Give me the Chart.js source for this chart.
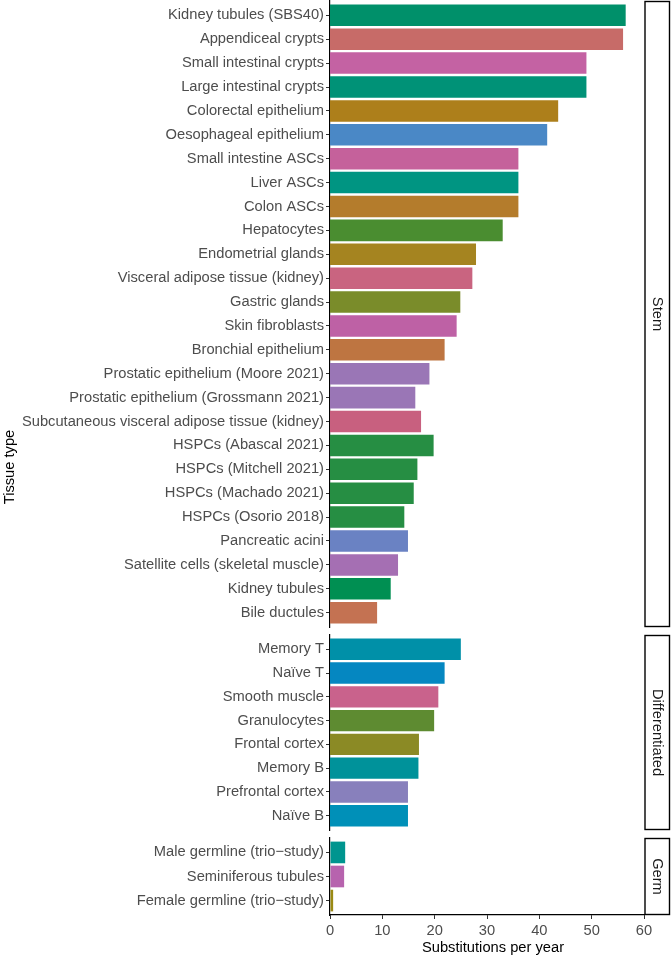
<!DOCTYPE html>
<html><head><meta charset="utf-8">
<script src="https://cdn.jsdelivr.net/npm/chart.js@4.4.1/dist/chart.umd.min.js"></script>
<style>
html,body{margin:0;padding:0;background:#fff;}
body{width:671px;height:956px;position:relative;overflow:hidden;font-family:"Liberation Sans",Arial,sans-serif;}
canvas{position:absolute;left:0;}
#ytitle{position:absolute;left:-91px;top:459px;width:200px;height:16px;line-height:16px;text-align:center;font-size:14.7px;color:#000;transform:rotate(-90deg);transform-origin:100px 8px;white-space:nowrap;}
#xtitle{position:absolute;left:393px;top:939px;width:200px;height:16px;line-height:16px;text-align:center;font-size:14.7px;color:#000;white-space:nowrap;}
</style></head><body>
<canvas id="c1" width="671" height="630" style="top:0;width:671px;height:630px"></canvas>
<canvas id="c2" width="671" height="205" style="top:630px;width:671px;height:205px"></canvas>
<canvas id="c3" width="671" height="126" style="top:830px;width:671px;height:126px"></canvas>
<div id="ytitle">Tissue type</div>
<div id="xtitle"></div>
<script>
// ---- data ----
const stemLabels = ["Kidney tubules (SBS40)","Appendiceal crypts","Small intestinal crypts","Large intestinal crypts","Colorectal epithelium","Oesophageal epithelium","Small intestine ASCs","Liver ASCs","Colon ASCs","Hepatocytes","Endometrial glands","Visceral adipose tissue (kidney)","Gastric glands","Skin fibroblasts","Bronchial epithelium","Prostatic epithelium (Moore 2021)","Prostatic epithelium (Grossmann 2021)","Subcutaneous visceral adipose tissue (kidney)","HSPCs (Abascal 2021)","HSPCs (Mitchell 2021)","HSPCs (Machado 2021)","HSPCs (Osorio 2018)","Pancreatic acini","Satellite cells (skeletal muscle)","Kidney tubules","Bile ductules"];
const stemValues = [56.5,56.0,49.0,49.0,43.6,41.5,36.0,36.0,36.0,33.0,27.9,27.2,24.9,24.2,21.9,19.0,16.3,17.4,19.8,16.7,16.0,14.2,14.9,13.0,11.6,9.0];
const stemColors = ["#00906A","#C76B68","#C462A3","#009277","#AD7F1B","#4A88C6","#C5619B","#009582","#B47C2C","#4A8D30","#A58420","#C96480","#7A8C2A","#BE61A5","#BE7541","#9A76B6","#9A76B6","#C8607F","#268E43","#268E43","#268E43","#268E43","#6A82C3","#A56FB3","#008F52","#C47252"];

const diffLabels = ["Memory T","Naïve T","Smooth muscle","Granulocytes","Frontal cortex","Memory B","Prefrontal cortex","Naïve B"];
const diffValues = [25.0,21.9,20.7,19.9,17.0,16.9,14.9,14.9];
const diffColors = ["#0090A8","#0587C1","#C9628C","#5E8B31","#8B8A25","#00929A","#8880BC","#0090B8"];

const germLabels = ["Male germline (trio\u2212study)","Seminiferous tubules","Female germline (trio\u2212study)"];
const germValues = [2.9,2.7,0.6];
const germColors = ["#00958F","#B763AE","#9A8A14"];

const xTicks = [0,10,20,30,40,50,60];
const facetNames = ["Stem","Differentiated","Germ"];
const xTitle = "Substitutions per year";

// ---- drawing ----
document.getElementById('xtitle').textContent = xTitle;
const FONT = '"Liberation Sans", Arial, sans-serif';
Chart.defaults.font.family = FONT;
Chart.defaults.font.size = 14.7;

const stripPlugin = {
  id: 'strip',
  afterDraw(chart, args, opts) {
    const {ctx, chartArea: a} = chart;
    ctx.save();
    const x0 = a.right + 1, x1 = 669.5;
    const y0 = a.top + 0.5, y1 = a.bottom - 0.5;
    ctx.fillStyle = '#fff';
    ctx.fillRect(x0, y0, x1 - x0, y1 - y0);
    ctx.strokeStyle = '#000';
    ctx.lineWidth = 1.4;
    ctx.strokeRect(x0, y0, x1 - x0, y1 - y0);
    ctx.translate((x0 + x1) / 2, (y0 + y1) / 2);
    ctx.rotate(Math.PI / 2);
    ctx.font = '14.7px ' + FONT;
    ctx.fillStyle = '#1A1A1A';
    ctx.textAlign = 'center';
    ctx.textBaseline = 'middle';
    ctx.fillText(opts.text, 0, 0);
    ctx.restore();
  }
};

function makePanel(id, labels, values, colors, facet, showX, pad) {
  const n = labels.length;
  new Chart(document.getElementById(id), {
    type: 'bar',
    data: {
      datasets: [{
        data: values.map((v, i) => ({x: v, y: i})),
        backgroundColor: colors,
        borderWidth: 0,
        categoryPercentage: 1,
        barPercentage: 0.9
      }]
    },
    options: {
      indexAxis: 'y',
      responsive: false,
      animation: false,
      events: [],
      layout: {padding: pad},
      plugins: {legend: {display: false}, tooltip: {enabled: false}, strip: {text: facet}},
      scales: {
        x: {
          type: 'linear', min: 0, max: 60, offset: false,
          display: showX,
          afterBuildTicks: s => { s.ticks = xTicks.map(v => ({value: v})); },
          afterFit: s => { s.height = showX ? 41 : 0; s.paddingLeft = 0; s.paddingRight = 0; },
          grid: {display: true, offset: false, drawOnChartArea: false, drawTicks: true, tickLength: 4, tickColor: '#333', tickWidth: 1},
          border: {display: true, color: '#000', width: 1.2},
          ticks: {color: '#4D4D4D', padding: 3, maxRotation: 0, autoSkip: false, font: {size: 14.7}},
          title: {display: false}
        },
        y: {
          type: 'linear', reverse: true, min: -0.6, max: n - 0.4, offset: false,
          afterBuildTicks: s => { s.ticks = labels.map((_, i) => ({value: i})); },
          afterFit: s => { s.width = 330; s.paddingTop = 0; s.paddingBottom = 0; },
          grid: {display: true, offset: false, drawOnChartArea: false, drawTicks: true, tickLength: 4, tickColor: '#333', tickWidth: 1},
          border: {display: true, color: '#000', width: 1.2},
          ticks: {color: '#4D4D4D', padding: 2, autoSkip: false, font: {size: 14.7},
                  callback: v => labels[v]}
        }
      }
    },
    plugins: [stripPlugin]
  });
}

makePanel('c1', stemLabels, stemValues, stemColors, facetNames[0], false, {left: 0, right: 27, top: 1, bottom: 3});
makePanel('c2', diffLabels, diffValues, diffColors, facetNames[1], false, {left: 0, right: 27, top: 5, bottom: 5});
makePanel('c3', germLabels, germValues, germColors, facetNames[2], true, {left: 0, right: 27, top: 8, bottom: 0});
</script>
</body></html>
